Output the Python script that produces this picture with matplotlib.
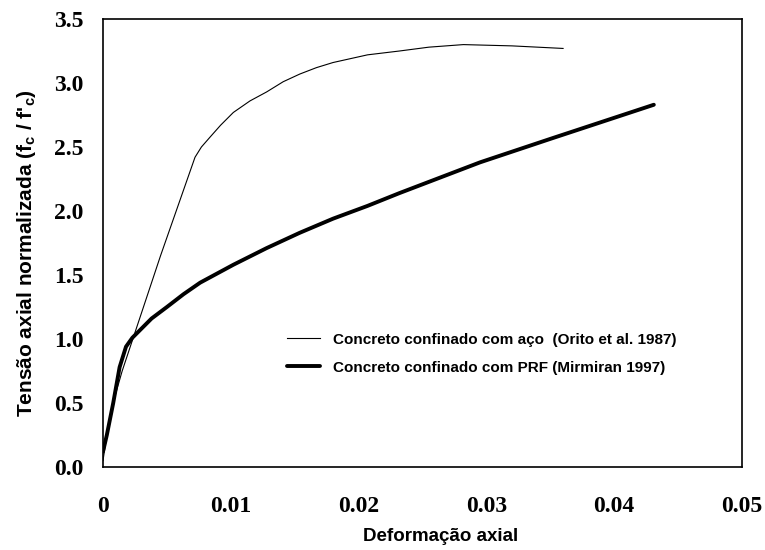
import matplotlib
matplotlib.use('Agg')
import matplotlib.pyplot as plt

# curvas tensão-deformação normalizadas
aco_x = [0.0, 0.0003, 0.0007, 0.0015, 0.0023, 0.0045, 0.0072, 0.0077, 0.0084, 0.0092, 0.0102,
         0.0115, 0.0128, 0.0141, 0.0154, 0.0167, 0.0180, 0.0207, 0.0232, 0.0255, 0.0282,
         0.0320, 0.0360]
aco_y = [0.05, 0.25, 0.47, 0.75, 0.99, 1.65, 2.42, 2.50, 2.58, 2.67, 2.77,
         2.86, 2.93, 3.01, 3.07, 3.12, 3.16, 3.22, 3.25, 3.28, 3.30,
         3.29, 3.27]

prf_x = [0.0, 0.0003, 0.0008, 0.0013, 0.0018, 0.0023, 0.0027, 0.0038, 0.0050, 0.0063, 0.0076,
         0.0089, 0.0102, 0.0128, 0.0154, 0.0180, 0.0207, 0.0232, 0.0295, 0.0352, 0.0431]
prf_y = [0.12, 0.25, 0.50, 0.78, 0.94, 1.01, 1.05, 1.16, 1.25, 1.35, 1.44,
         1.51, 1.58, 1.71, 1.83, 1.94, 2.04, 2.14, 2.38, 2.57, 2.83]

x_ticks = [0, 0.01, 0.02, 0.03, 0.04, 0.05]
x_labels = ['0', '0.01', '0.02', '0.03', '0.04', '0.05']
y_ticks = [0.0, 0.5, 1.0, 1.5, 2.0, 2.5, 3.0, 3.5]
y_labels = ['0.0', '0.5', '1.0', '1.5', '2.0', '2.5', '3.0', '3.5']

sans = ['Liberation Sans', 'DejaVu Sans']
plt.rcParams['mathtext.fontset'] = 'custom'
plt.rcParams['mathtext.rm'] = 'Liberation Sans:bold'
plt.rcParams['mathtext.bf'] = 'Liberation Sans:bold'

fig = plt.figure(figsize=(7.65, 5.5), dpi=100)
ax = fig.add_axes([103 / 765, 1 - 467 / 550, 639 / 765, 448 / 550])

ax.plot(aco_x, aco_y, color='black', lw=0.8,
        label='Concreto confinado com aço  (Orito et al. 1987)')
ax.plot(prf_x, prf_y, color='black', lw=2.8, solid_capstyle='round',
        label='Concreto confinado com PRF (Mirmiran 1997)')

ax.set_xlim(0, 0.05)
ax.set_ylim(0, 3.5)
ax.set_xticks(x_ticks)
ax.set_xticklabels(x_labels)
ax.set_yticks(y_ticks)
ax.set_yticklabels(y_labels)
ax.tick_params(length=0)
ax.tick_params(axis='x', pad=21)
ax.tick_params(axis='y', pad=14)
for lbl in ax.get_xticklabels() + ax.get_yticklabels():
    lbl.set_fontfamily('Liberation Serif')
    lbl.set_fontweight('bold')
    lbl.set_fontsize(17)
for s in ax.spines.values():
    s.set_linewidth(1.2)

ax.set_xlabel('Deformação axial', family=sans, fontweight='bold', fontsize=13.5)
ax.xaxis.set_label_coords(0.529, -0.136)
ax.set_ylabel(r"Tensão axial normalizada (f$_\mathbf{c}$ / f$'_\mathbf{c}$)",
              family=sans, fontweight='bold', fontsize=15)
ax.yaxis.set_label_coords(-0.102, 0.478)

ax.legend(loc='upper left', bbox_to_anchor=(0.2755, 0.3167), frameon=False,
          borderpad=0, handlelength=2.2, handletextpad=0.8, labelspacing=0.9,
          prop={'family': sans, 'weight': 'bold', 'size': 11})

fig.savefig('out.png', dpi=100)
